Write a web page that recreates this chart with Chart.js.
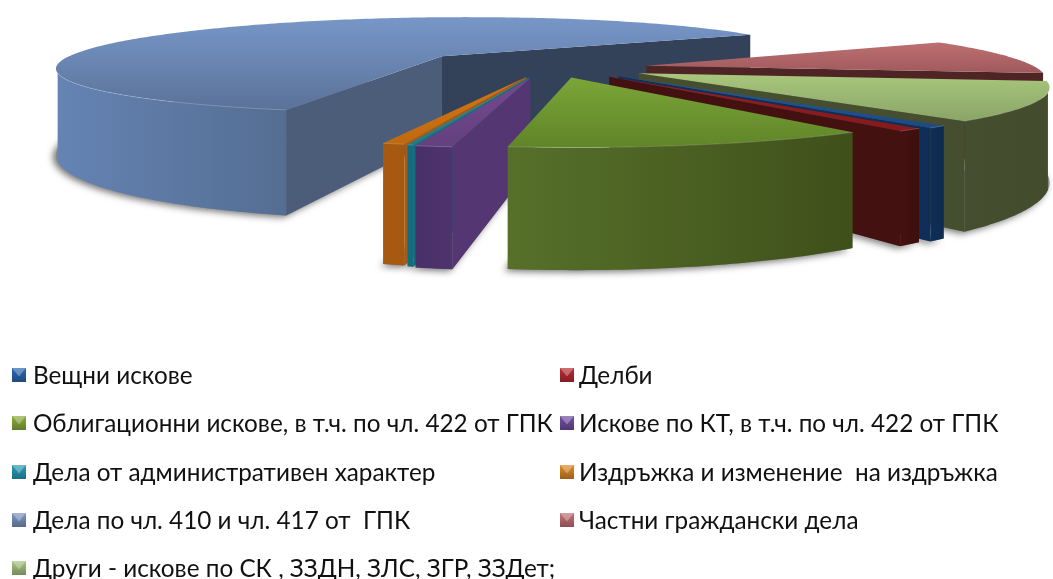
<!DOCTYPE html>
<html lang="bg">
<head>
  <meta charset="UTF-8">
  <title>Граждански дела</title>
  <script src="https://cdn.jsdelivr.net/npm/chart.js"></script>
  <style>
    html, body { margin: 0; background: #fff; }
    #wrap { position: relative; width: 1053px; height: 579px; overflow: hidden; }
    #pie { position: absolute; left: 0; top: 0; }
    .item { position: absolute; font: 24.3px Lato, "Open Sans", sans-serif; color: #111; white-space: pre; line-height: 28px; height: 28px; }
    .mark { position: absolute; width: 14px; height: 14px; top: 7px; }
    .mark::before { content: ''; position: absolute; inset: 0; background: rgba(255,255,255,.3); clip-path: polygon(0 0, 100% 0, 50% 60%); }
  </style>
</head>
<body>
  <div id="wrap">
    <canvas id="pie" width="1053" height="579"></canvas>
  </div>

  <script>
    const labels = [
      'Вещни искове', 'Делби',
      'Облигационни искове, в т.ч. по чл. 422 от ГПК', 'Искове по КТ, в т.ч. по чл. 422 от ГПК',
      'Дела от административен характер', 'Издръжка и изменение  на издръжка',
      'Дела по чл. 410 и чл. 417 от  ГПК', 'Частни граждански дела',
      'Други - искове по СК , ЗЗДН, ЗЛС, ЗГР, ЗЗДет;'
    ];
    const values = [0.7, 0.91, 12, 1.21, 0.2, 0.72, 62.25, 10.64, 11.39];

    // explosion of each slice, px
    const explode = [78, 78, 70, 70, 68, 66, 155, 90, 80];
    const nudgeX = [11, 5, -1, -11, -10, -11, 2, 4, 11];
    const drawOrder = [6, 7, 8, 5, 4, 3, 0, 1, 2];

    const topLight = ['#2358a0', '#981e1e', '#7ba538', '#74498f', '#1f8ea2', '#d47512', '#7797c8', '#bd6f71', '#a9c77c'];
    const topDark = ['#1c4a85', '#861a1a', '#5f8528', '#64407f', '#1a7c8e', '#bf6a10', '#5b7299', '#a05a5c', '#8aa468'];
    const wallLeft = ['#0f2f58', '#451110', '#56702a', '#4a3068', '#136c7e', '#a85a12', '#6584b4', '#4f2425', '#454f30'];
    const wallRight = ['#0e2a50', '#3d0f0d', '#3f501a', '#4e336d', '#136c7e', '#a45810', '#546d92', '#4f2425', '#434d2e'];
    const faceStart = ['#0f2f58', '#451110', '#3f501a', '#533672', '#136c7e', '#a85a12', '#4c5d7a', '#4f2425', '#454f30'];
    const faceEnd = ['#0f2f58', '#421110', '#56702a', '#4a3068', '#136c7e', '#a85a12', '#334259', '#4f2425', '#454f30'];
    const markColors = ['#2a6ab4', '#bb2c32', '#8cb03c', '#7250a4', '#2a9dbb', '#e08a26', '#7e98c4', '#c57276', '#a8c682'];

    // camera: tilt, perspective distance, slice thickness, radius falloff towards the viewer
    const tilt = 0.133, dist = 1400, thick = 86, falloff = 0.00022;

    function project(cx, cy, u, v, z) {
      const s = 1 / (1 - v / dist);
      return [cx + u * s, cy + v * tilt * s + z * s];
    }

    function poly(ctx, pts, fill) {
      ctx.beginPath();
      pts.forEach((p, i) => i ? ctx.lineTo(p[0], p[1]) : ctx.moveTo(p[0], p[1]));
      ctx.closePath();
      ctx.fillStyle = fill;
      ctx.fill();
    }

    // is the face with outward normal at angle a, through (u, v), turned to the viewer
    function facing(a, u, v) {
      return -Math.cos(a) * u + Math.sin(a) * (dist - v) > 0;
    }

    const pie3d = {
      id: 'pie3d',
      beforeDatasetsDraw(chart) {
        const ctx = chart.ctx;
        const arcs = chart.getDatasetMeta(0).data;

        const shapes = arcs.map((arc, idx) => {
          const mid = (arc.startAngle + arc.endAngle) / 2;
          const off = arc.options.offset;
          const u0 = Math.cos(mid) * off + nudgeX[idx], v0 = Math.sin(mid) * off;
          const steps = Math.max(2, Math.ceil((arc.endAngle - arc.startAngle) * 60));
          const rim = [];
          for (let i = 0; i <= steps; i++) {
            const a = arc.startAngle + (arc.endAngle - arc.startAngle) * i / steps;
            const guess = v0 + Math.sin(a) * arc.outerRadius;
            const r = arc.outerRadius * (1 - falloff * guess);
            rim.push({ a, u: u0 + Math.cos(a) * r, v: v0 + Math.sin(a) * r });
          }
          return { cx: arc.x, cy: arc.y, u0, v0, rim, start: arc.startAngle, end: arc.endAngle };
        });

        // soft shadow on the ground
        ctx.save();
        ctx.shadowColor = 'rgba(0,0,0,.55)';
        ctx.shadowBlur = 7;
        ctx.shadowOffsetX = -3;
        ctx.shadowOffsetY = 2;
        shapes.forEach((sh) => {
          const pts = [project(sh.cx, sh.cy, sh.u0, sh.v0, thick)]
            .concat(sh.rim.map(r => project(sh.cx, sh.cy, r.u, r.v, thick)));
          poly(ctx, pts, '#888');
        });
        ctx.restore();

        drawOrder.forEach((i) => {
          const sh = shapes[i];
          const P = (u, v, z) => project(sh.cx, sh.cy, u, v, z);
          const first = sh.rim[0], last = sh.rim[sh.rim.length - 1];

          // cut faces
          if (facing(sh.start - Math.PI / 2, sh.u0, sh.v0)) {
            poly(ctx, [P(sh.u0, sh.v0, 0), P(first.u, first.v, 0), P(first.u, first.v, thick), P(sh.u0, sh.v0, thick)], faceStart[i]);
          }
          if (facing(sh.end + Math.PI / 2, sh.u0, sh.v0)) {
            poly(ctx, [P(sh.u0, sh.v0, 0), P(last.u, last.v, 0), P(last.u, last.v, thick), P(sh.u0, sh.v0, thick)], faceEnd[i]);
          }

          // outer wall, only the part turned to the viewer
          const front = sh.rim.filter(r => facing(r.a, r.u, r.v));
          if (front.length > 1) {
            const up = front.map(r => P(r.u, r.v, 0));
            const down = front.map(r => P(r.u, r.v, thick)).reverse();
            const xs = up.map(p => p[0]);
            const g = ctx.createLinearGradient(Math.min(...xs), 0, Math.max(...xs), 0);
            g.addColorStop(0, wallLeft[i]);
            g.addColorStop(1, wallRight[i]);
            poly(ctx, up.concat(down), g);
          }

          // top
          const top = [P(sh.u0, sh.v0, 0)].concat(sh.rim.map(r => P(r.u, r.v, 0)));
          const ys = top.map(p => p[1]);
          const tg = ctx.createLinearGradient(0, Math.min(...ys), 0, Math.max(...ys));
          tg.addColorStop(0, topLight[i]);
          tg.addColorStop(1, topDark[i]);
          poly(ctx, top, tg);

          // thin highlight on the front rim
          if (front.length > 1) {
            ctx.beginPath();
            front.forEach((r, n) => {
              const p = P(r.u, r.v, 0);
              n ? ctx.lineTo(p[0], p[1]) : ctx.moveTo(p[0], p[1]);
            });
            ctx.strokeStyle = 'rgba(255,255,255,.18)';
            ctx.lineWidth = 1;
            ctx.stroke();
          }
        });
        return false;
      }
    };

    new Chart(document.getElementById('pie'), {
      type: 'pie',
      data: {
        labels,
        datasets: [{ data: values, radius: 390, offset: explode, borderWidth: 0, clip: false }]
      },
      options: {
        responsive: false,
        animation: false,
        rotation: 139,
        cutout: '0%',
        layout: { padding: { left: 57, right: 0, top: 0, bottom: 443 } },
        plugins: { legend: { display: false }, tooltip: { enabled: false } }
      },
      plugins: [pie3d]
    });

    // legend, two columns like the original
    const wrap = document.getElementById('wrap');
    const rowY = [361, 409, 458, 506, 554];
    const colX = [33, 579];
    const markX = [-21, -19];
    labels.forEach((text, i) => {
      const el = document.createElement('div');
      el.className = 'item';
      el.style.left = colX[i % 2] + 'px';
      el.style.top = rowY[Math.floor(i / 2)] + 'px';
      el.textContent = text;
      const m = document.createElement('span');
      m.className = 'mark';
      m.style.left = markX[i % 2] + 'px';
      m.style.background = 'linear-gradient(rgba(0,0,0,0), rgba(0,0,0,.3)), ' + markColors[i];
      el.appendChild(m);
      wrap.appendChild(el);
    });
  </script>
</body>
</html>
